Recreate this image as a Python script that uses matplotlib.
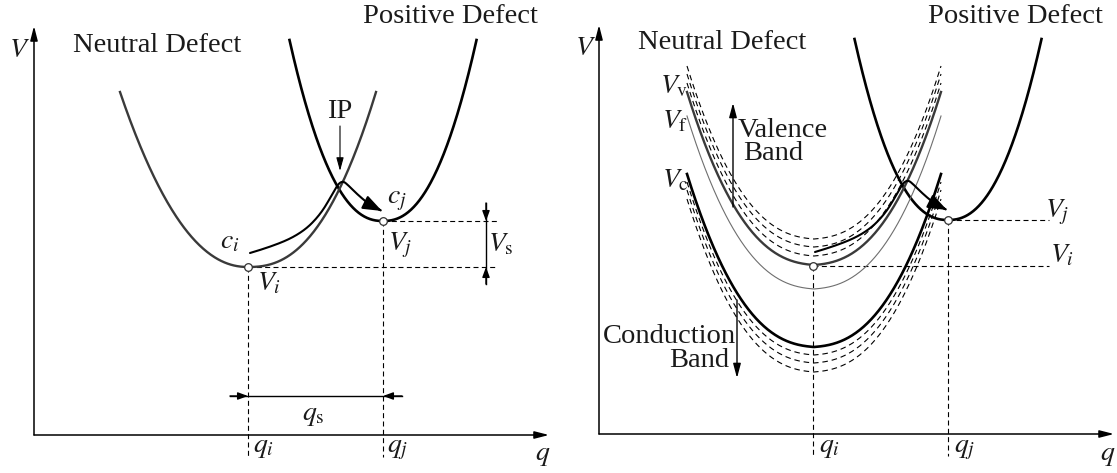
import numpy as np
import matplotlib.pyplot as plt
from matplotlib.patches import FancyArrowPatch
from matplotlib.path import Path

plt.rcParams['mathtext.fontset'] = 'stix'
plt.rcParams['font.family'] = ['Liberation Serif', 'DejaVu Serif']

W, H = 1117, 473

# horizontal / vertical shift of the right panel relative to the left one
panel_shift = [(0, 0), (565, -1)]

# coordinate frame of a panel (origin, top of V axis, tip of q axis)
origin = (34, 435)
v_top = 26
q_tip = 549

# wells: vertex q, vertex V, half width, height, kink, exponent left, exponent right
neutral_well = (248, 267, 128, 175, 0.0, 2.15, 2.4)
positive_well = (383, 221, 93.5, 181, 0.0, 2.3, 2.3)
band_well = (249, 266, 127, 173, 0.06, 2.45, 2.45)

# vertical offsets of the band curves in the right panel
offset_v = 0
offset_f = 24
offset_c = 82
valence_dashes = [-9, -18, -26]
conduction_dashes = [8, 16, 25]

# minima and lengths of the dashed guide lines
q_i, V_i = 248, 267
q_j, V_j = 383, 221
guide_bottom = 457
guide_right = [498, 484]

# transition path from c_i over the intersection point to c_j
path_q = [250, 277, 303, 320, 332, 338, 343, 348, 358, 370, 382]
path_V = [253, 245, 232, 215, 195, 184, 181, 185, 195, 205, 211]

dark = '#3a3a3a'


def well(ax, dx, dy, params, shift=0, **kw):
    q0, v0, half, height, kink, p_left, p_right = params
    r = np.linspace(-1, 1, 401)
    p = np.where(r < 0, p_left, p_right)
    f = kink * np.abs(r) + (1 - kink) * np.abs(r) ** p
    ax.plot(q0 + dx + half * r, v0 + dy + shift - height * f, **kw)


def arrow(ax, p0, p1, hl, hw, lw=1.0):
    ax.add_patch(FancyArrowPatch(p0, p1, arrowstyle=f'-|>,head_length={hl},head_width={hw}',
                                 mutation_scale=1, lw=lw, color='k',
                                 shrinkA=0, shrinkB=0, zorder=4))


def smooth(xs, ys, n=20):
    # quadratic B-spline style smoothing through the waypoints
    pts = np.column_stack([xs, ys]).astype(float)
    out = [pts[0]]
    start = pts[0]
    for i in range(1, len(pts) - 1):
        ctrl = pts[i]
        end = pts[-1] if i == len(pts) - 2 else (pts[i] + pts[i + 1]) / 2
        t = np.linspace(0, 1, n)[1:, None]
        seg = (1 - t) ** 2 * start + 2 * (1 - t) * t * ctrl + t ** 2 * end
        out.extend(seg)
        start = end
    return np.array(out)


fig = plt.figure(figsize=(W / 100, H / 100), dpi=100)
ax = fig.add_axes([0, 0, 1, 1])
ax.set_xlim(0, W)
ax.set_ylim(H, 0)
ax.axis('off')

math_fs = 20
text_fs = 20.5

for k, (dx, dy) in enumerate(panel_shift):
    # axes
    ox, oy = origin[0] + dx, origin[1] + dy
    arrow(ax, (ox, oy), (ox, v_top + dy), 8.6, 2.2, lw=1.1)
    arrow(ax, (ox, oy), (q_tip + dx, oy), 8.6, 2.2, lw=1.1)

    # positive defect well
    well(ax, dx, dy, positive_well, color='k', lw=1.9, zorder=3)

    if k == 0:
        well(ax, dx, dy, neutral_well, color=dark, lw=1.7, zorder=3)
    else:
        for s in valence_dashes:
            well(ax, dx, dy, band_well, offset_v + s, color='k', lw=0.8,
                 ls=(0, (5, 3.5)), zorder=2)
        for s in conduction_dashes:
            well(ax, dx, dy, band_well, offset_c + s, color='k', lw=0.8,
                 ls=(0, (5, 3.5)), zorder=2)
        well(ax, dx, dy, band_well, offset_f, color='#6e6e6e', lw=0.8, zorder=3)
        well(ax, dx, dy, band_well, offset_v, color=dark, lw=1.7, zorder=3)
        well(ax, dx, dy, band_well, offset_c, color='k', lw=1.9, zorder=3)

    # dashed guides
    guide = dict(color='k', lw=0.8, ls=(0, (4.5, 3)), zorder=2)
    ax.plot([q_i + dx, q_i + dx], [V_i + dy, guide_bottom + dy], **guide)
    ax.plot([q_j + dx, q_j + dx], [V_j + dy, guide_bottom + dy], **guide)
    ax.plot([q_i + dx, guide_right[k] + dx], [V_i + dy, V_i + dy], **guide)
    ax.plot([q_j + dx, guide_right[k] + dx], [V_j + dy, V_j + dy], **guide)

    # transition path
    pts = smooth(path_q, path_V)
    pts[:, 0] += dx
    pts[:, 1] += dy
    ax.add_patch(FancyArrowPatch(path=Path(pts), arrowstyle='-|>,head_length=11.5,head_width=4.3',
                                 mutation_scale=1, lw=1.5, color='k', zorder=4))

    # minima markers
    ax.plot([q_i + dx, q_j + dx], [V_i + dy, V_j + dy], 'o', ms=5.5, mfc='white',
            mec='#333333', mew=0.9, zorder=6)

# left panel annotations
arrow(ax, (340, 126), (340, 171), 8, 2.2, lw=0.8)
ax.plot([486, 486], [203, 284], color='k', lw=1.0)
arrow(ax, (486, 203), (486, 221), 6, 2.2)
arrow(ax, (486, 284), (486, 267), 6, 2.2)
ax.plot([230, 402], [396, 396], color='k', lw=1.0)
arrow(ax, (230, 396), (248, 396), 6, 2.2)
arrow(ax, (402, 396), (383, 396), 6, 2.2)

# right panel band arrows
arrow(ax, (733, 207), (733, 103), 8.6, 2.3)
arrow(ax, (737, 300), (737, 378), 8.6, 2.3)

labels_math = [
    ('$V$', 9, 57), ('$c_i$', 220, 248), ('$c_j$', 387, 203),
    ('$V_i$', 257, 290), ('$V_j$', 388, 250), (r'$V_\mathrm{s}$', 488, 251),
    (r'$q_\mathrm{s}$', 302, 420), ('$q_i$', 253, 452), ('$q_j$', 387, 452),
    ('$q$', 535, 460),
    ('$V$', 575, 55), (r'$V_\mathrm{v}$', 660, 93), (r'$V_\mathrm{f}$', 662, 128),
    (r'$V_\mathrm{c}$', 662, 187), ('$V_j$', 1045, 217), ('$V_i$', 1050, 262),
    ('$q_i$', 819, 452), ('$q_j$', 954, 452), ('$q$', 1100, 460),
]
labels_text = [
    ('Neutral Defect', 73, 52), ('Positive Defect', 363, 23), ('IP', 327, 118),
    ('Neutral Defect', 638, 49), ('Positive Defect', 928, 23),
    ('Valence', 738, 137), ('Band', 743, 160),
    ('Conduction', 603, 343), ('Band', 669, 367),
]

for s, x, y in labels_math:
    ax.text(x, y, s, fontsize=math_fs, ha='left', va='baseline', color='#1a1a1a')
for s, x, y in labels_text:
    ax.text(x, y, s, fontsize=text_fs, ha='left', va='baseline', color='#1a1a1a')

fig.savefig('out.png', dpi=100)
